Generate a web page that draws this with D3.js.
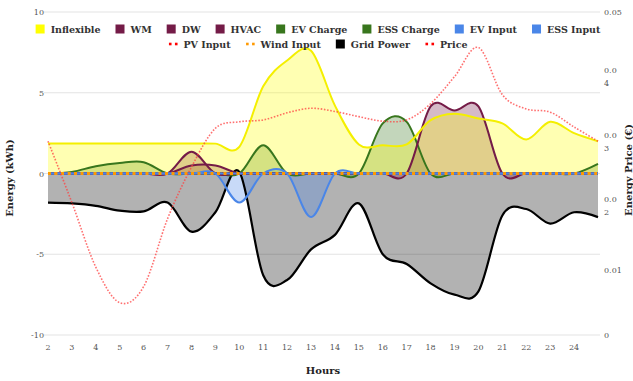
<!DOCTYPE html>
<html><head><meta charset="utf-8">
<script src="https://cdn.jsdelivr.net/npm/d3@7"></script>
<style>
html,body{margin:0;padding:0;background:#fff;}
svg{display:block;}
</style></head>
<body>
<svg id="chart" width="633" height="381"></svg>
<script>
// ---- data ----
const hours      = [2,3,4,5,6,7,8,9,10,11,12,13,14,15,16,17,18,19,20,21,22,23,24,25];
const xTickLabels = [2,3,4,5,6,7,8,9,10,11,12,13,14,15,16,17,18,19,20,21,22,23,24];
const inflexible = [1.85,1.85,1.85,1.85,1.85,1.85,1.85,1.85,1.65,5.4,7.0,7.6,4.2,1.8,1.75,1.8,3.3,3.7,3.4,3.1,2.1,3.2,2.5,2.0];
const wm         = [0,0,0,0,0,0,1.35,0,0,0,0,0,0,0,0,0,0,0,0,0,0,0,0,0];
const dw         = [0,0,0,0,0,0,0.5,0.5,0,0,0,0,0,0,0,0,0,0,0,0,0,0,0,0];
const hvac       = [0,0,0,0,0,0,0,0,0,0,0,0,0,0,0,0,4.15,3.9,4.15,0,0,0,0,0];
const evCharge   = [0,0.1,0.45,0.65,0.7,0,0,0,0,1.75,0,0,0,0,0,0,0,0,0,0,0,0,0,0];
const essCharge  = [0,0,0,0,0,0,0,0,0,0,0,0,0,0,3.1,3.2,0,0,0,0,0,0,0,0.6];
const evInput    = [0,0,0,0,0,0,0,0,-1.8,0,0,-2.7,0,0,0,0,0,0,0,0,0,0,0,0];
const essInput   = [0,0,0,0,0,0,0,0,0,0,0,0,0,0,0,0,0,0,0,0,0,0,0,0];
const pvInput    = [0,0,0,0,0,0,0,0,0,0,0,0,0,0,0,0,0,0,0,0,0,0,0,0];
const windInput  = [0,0,0,0,0,0,0,0,0,0,0,0,0,0,0,0,0,0,0,0,0,0,0,0];
const gridPower  = [-1.8,-1.85,-2.0,-2.3,-2.35,-1.8,-3.6,-2.4,0.1,-6.3,-6.6,-4.7,-3.8,-1.85,-5.0,-5.6,-6.8,-7.5,-7.3,-2.6,-2.2,-3.1,-2.4,-2.7];
const price      = [0.030,0.0205,0.0105,0.005,0.0075,0.018,0.026,0.032,0.033,0.0333,0.0344,0.0351,0.0346,0.0338,0.0331,0.0333,0.0358,0.040,0.0445,0.0372,0.035,0.0345,0.0322,0.030];
const leftTicks  = [-10,-5,0,5,10];
const rightTicks = [0,0.01,0.02,0.03,0.04,0.05];
const rightTickLabels = [["0"],["0.01"],["0.0","2"],["0.0","3"],["0.0","4"],["0.05"]];

// ---- setup ----
const svg = d3.select("#chart");
const FONT = "'DejaVu Serif', serif";
const x  = d3.scaleLinear().domain([2,25]).range([48,598]);
const yL = d3.scaleLinear().domain([-10,10]).range([335,12]);
const yR = d3.scaleLinear().domain([0,0.05]).range([335,12]);
const curve = d3.curveCatmullRom.alpha(0);

// grid lines (left axis)
svg.append("g").selectAll("line").data(leftTicks).join("line")
  .attr("x1",44).attr("x2",600)
  .attr("y1",d=>yL(d)).attr("y2",d=>yL(d))
  .attr("stroke","#e3e3e3").attr("stroke-width",1.2);

// left tick labels
svg.append("g").selectAll("text").data(leftTicks).join("text")
  .attr("x",44).attr("y",d=>yL(d)+3)
  .attr("text-anchor","end")
  .attr("font-family",FONT).attr("font-size",8).attr("fill","#555")
  .text(d=>d);

// right tick labels (wrapped like reference)
const rt = svg.append("g").selectAll("text").data(rightTicks).join("text")
  .attr("x",604).attr("y",d=>yR(d))
  .attr("font-family",FONT).attr("font-size",8).attr("fill","#555");
rt.each(function(d,i){
  const lines = rightTickLabels[i];
  const t = d3.select(this);
  lines.forEach((l,j)=>{
    const dy = lines.length===1 ? 3 : -3.5;
    t.append("tspan").attr("x",604).attr("dy", j===0?dy:13).text(l);
  });
});

// x tick labels
svg.append("g").selectAll("text").data(xTickLabels).join("text")
  .attr("x",d=>x(d)).attr("y",350)
  .attr("text-anchor","middle")
  .attr("font-family",FONT).attr("font-size",8).attr("fill","#555")
  .text(d=>d);

// axis titles
svg.append("text").attr("x",323).attr("y",374).attr("text-anchor","middle")
  .attr("font-family",FONT).attr("font-size",10).attr("font-weight","bold").attr("fill","#222")
  .text("Hours");
svg.append("text").attr("transform","translate(13,178) rotate(-90)").attr("text-anchor","middle")
  .attr("font-family",FONT).attr("font-size",10).attr("font-weight","bold").attr("fill","#222")
  .text("Energy (kWh)");
svg.append("text").attr("transform","translate(632,170) rotate(-90)").attr("text-anchor","middle")
  .attr("font-family",FONT).attr("font-size",10).attr("font-weight","bold").attr("fill","#222")
  .text("Energy Price (€)");

// series definitions
const YEL="#ffff00", MAR="#741b47", GRN="#38761d", BLU="#4a86e8";
const areaSeries = [
  {name:"Grid Power", data:gridPower, stroke:"#000", fill:"rgba(0,0,0,0.3)", w:2.2},
  {name:"EV Input",   data:evInput,   stroke:BLU, fill:"rgba(74,134,232,0.3)", w:2},
  {name:"ESS Input",  data:essInput,  stroke:BLU, fill:"rgba(74,134,232,0.3)", w:2},
  {name:"EV Charge",  data:evCharge,  stroke:GRN, fill:"rgba(56,118,29,0.3)", w:2},
  {name:"ESS Charge", data:essCharge, stroke:GRN, fill:"rgba(56,118,29,0.3)", w:2},
  {name:"WM",         data:wm,        stroke:MAR, fill:"rgba(116,27,71,0.3)", w:2},
  {name:"DW",         data:dw,        stroke:MAR, fill:"rgba(116,27,71,0.3)", w:2},
  {name:"HVAC",       data:hvac,      stroke:MAR, fill:"rgba(116,27,71,0.3)", w:2},
  {name:"Inflexible", data:inflexible,stroke:"#f4ef00", fill:"rgba(255,255,0,0.3)", w:2}
];
const area = d3.area().x((d,i)=>x(hours[i])).y0(yL(0)).y1(d=>yL(d)).curve(curve);
const lineL = d3.line().x((d,i)=>x(hours[i])).y(d=>yL(d)).curve(curve);
const lineR = d3.line().x((d,i)=>x(hours[i])).y(d=>yR(d)).curve(curve);

const gA = svg.append("g");
areaSeries.forEach(s=>{
  gA.append("path").attr("d",area(s.data)).attr("fill",s.fill).attr("stroke","none");
});
// PV input dotted (hidden beneath the other lines along zero)
svg.append("path").attr("d",lineL(pvInput)).attr("fill","none")
  .attr("stroke","#ff0000").attr("stroke-width",2.5).attr("stroke-dasharray","2.5 3.5");
const gL = svg.append("g");
// draw the zero-valued input line (blue) last among solid lines, so it shows along zero
const lineOrder = ["Grid Power","EV Charge","ESS Charge","WM","DW","HVAC","Inflexible","ESS Input","EV Input"];
lineOrder.forEach(n=>{
  const s = areaSeries.find(a=>a.name===n);
  gL.append("path").attr("d",lineL(s.data)).attr("fill","none")
    .attr("stroke",s.stroke).attr("stroke-width",s.w).attr("stroke-linejoin","round");
});
svg.append("path").attr("d",lineL(windInput)).attr("fill","none")
  .attr("stroke","#ff9900").attr("stroke-width",3).attr("stroke-dasharray","3 3.5");
// price (right axis)
svg.append("path").attr("d",lineR(price)).attr("fill","none")
  .attr("stroke","#ff4040").attr("stroke-opacity",0.75).attr("stroke-width",1.6).attr("stroke-dasharray","1.6 1.6");

// ---- legend ----
const legendRows = [
  [{n:"Inflexible",c:YEL,t:"box"},{n:"WM",c:MAR,t:"box"},{n:"DW",c:MAR,t:"box"},{n:"HVAC",c:MAR,t:"box"},
   {n:"EV Charge",c:GRN,t:"box"},{n:"ESS Charge",c:GRN,t:"box"},{n:"EV Input",c:BLU,t:"box"},{n:"ESS Input",c:BLU,t:"box"}],
  [{n:"PV Input",c:"#ff0000",t:"dot"},{n:"Wind Input",c:"#ff9900",t:"dot"},{n:"Grid Power",c:"#000",t:"box"},{n:"Price",c:"#ff0000",t:"dot"}]
];
const rowY = [29,44];
legendRows.forEach((row,ri)=>{
  const g = svg.append("g");
  let cx = 0;
  row.forEach(it=>{
    const ig = g.append("g");
    if(it.t==="box"){
      ig.append("rect").attr("x",0).attr("y",-4.5).attr("width",9).attr("height",9).attr("fill",it.c);
    } else {
      ig.append("rect").attr("x",0.5).attr("y",-1.3).attr("width",2.6).attr("height",2.6).attr("fill",it.c);
      ig.append("rect").attr("x",6.5).attr("y",-1.3).attr("width",2.6).attr("height",2.6).attr("fill",it.c);
    }
    const tx = ig.append("text").attr("x",15).attr("y",3.5)
      .attr("font-family",FONT).attr("font-size",9.5).attr("font-weight","bold").attr("fill","#333")
      .text(it.n);
    const w = 15 + tx.node().getComputedTextLength();
    ig.attr("transform",`translate(${cx},0)`);
    cx += w + 15;
  });
  const total = cx - 15;
  g.attr("transform",`translate(${318 - total/2},${rowY[ri]})`);
});
</script>
</body></html>
